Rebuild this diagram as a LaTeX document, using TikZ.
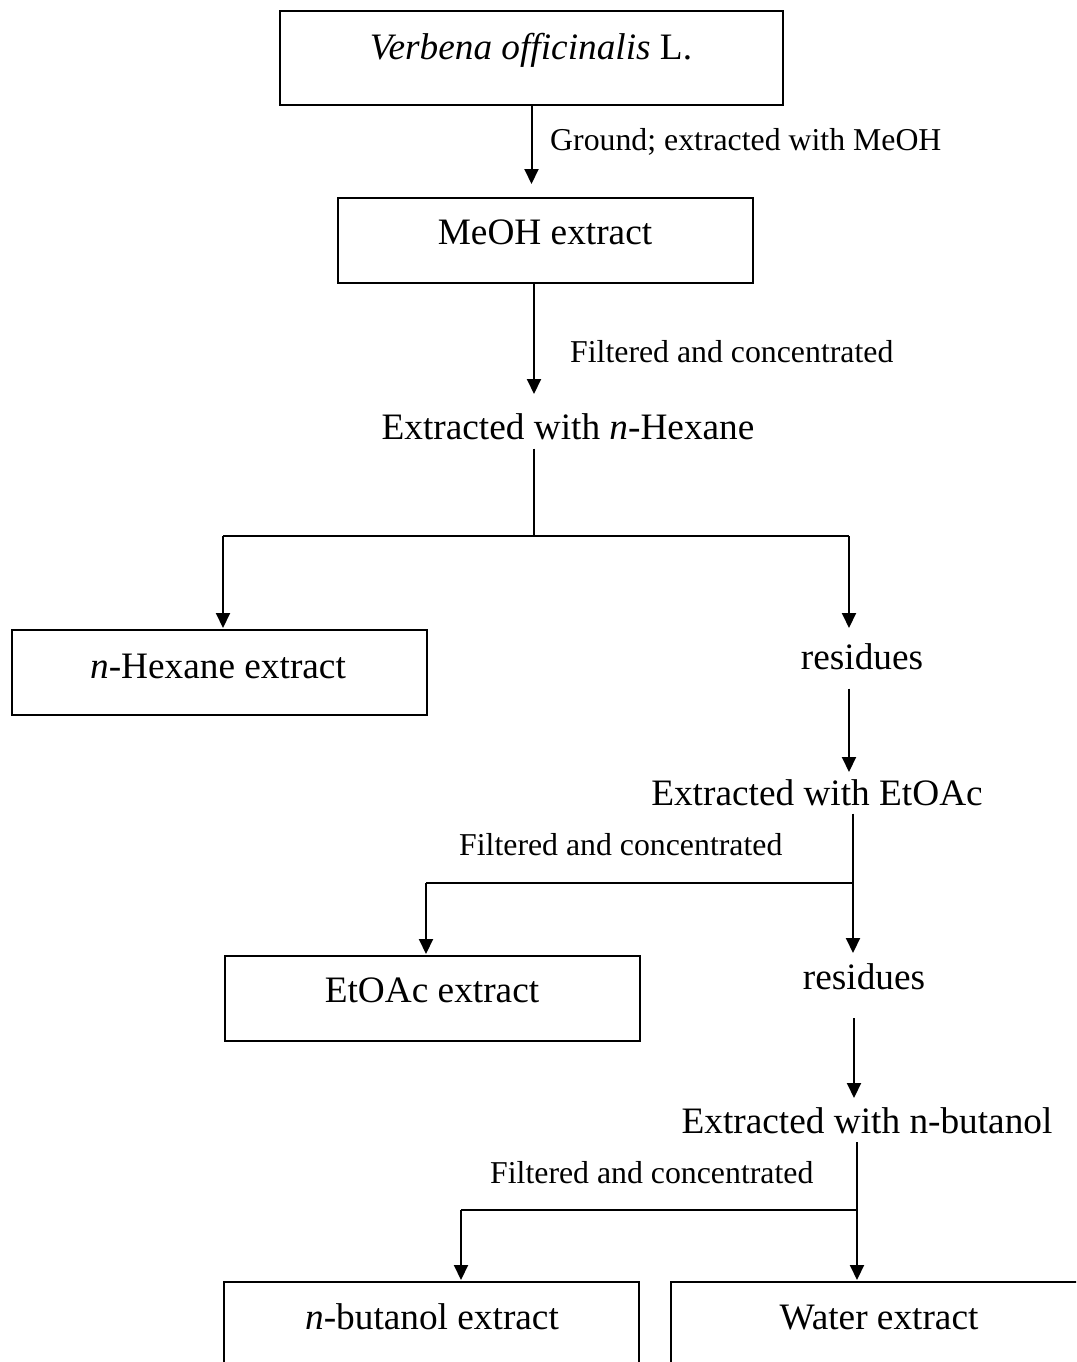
\documentclass[tikz,border=0pt]{standalone}
\usepackage{fontspec}
\setmainfont{Liberation Serif}
\usetikzlibrary{arrows.meta}
\begin{document}
\begin{tikzpicture}[x=1pt,y=-1pt,
  big/.style={font=\fontsize{37.3}{44}\selectfont, inner sep=0pt, text height=24.6pt, text depth=0pt},
  small/.style={font=\fontsize{31.8}{38}\selectfont, inner sep=0pt, text height=21pt, text depth=0pt, anchor=west},
  box/.style={draw, line width=2pt, inner sep=0pt},
  line/.style={line width=2pt},
  arr/.style={line width=2pt, -{Triangle[length=15pt,width=14pt]}}]
\useasboundingbox (0,0) rectangle (1076,1362);
\clip (0,0) rectangle (1076,1362);

% boxes
\node[box, minimum width=503pt, minimum height=94pt] (vbox) at (531.5,58) {};
\node[box, minimum width=415pt, minimum height=85pt] (mbox) at (545.5,240.5) {};
\node[box, minimum width=415pt, minimum height=85pt] (hbox) at (219.5,672.5) {};
\node[box, minimum width=415pt, minimum height=85pt] (ebox) at (432.5,998.5) {};
\node[box, minimum width=415pt, minimum height=160pt] (bbox) at (431.5,1362) {};
\node[box, minimum width=429pt, minimum height=160pt] (wbox) at (885.5,1362) {};

% texts
\node[big] (vt) at (531,47) {\textit{Verbena officinalis} L.};
\node[small] (l1) at (550,140) {Ground; extracted with MeOH};
\node[big] (mt) at (545,232) {MeOH extract};
\node[small] (l2) at (570,352) {Filtered and concentrated};
\node[big] (hex) at (568,427) {Extracted with \textit{n}-Hexane};
\node[big] (ht) at (218,666) {\textit{n}-Hexane extract};
\node[big] (r1) at (862,657) {residues};
\node[big] (e1) at (817,793) {Extracted with EtOAc};
\node[small] (l3) at (459,845) {Filtered and concentrated};
\node[big] (et) at (432,990) {EtOAc extract};
\node[big] (r2) at (864,977) {residues};
\node[big] (b1) at (867,1121) {Extracted with n-butanol};
\node[small] (l4) at (490,1173) {Filtered and concentrated};
\node[big] (bt) at (432,1317) {\textit{n}-butanol extract};
\node[big] (wt) at (879,1317) {Water extract};

% junctions
\coordinate (jh) at (534,536);
\coordinate (jl) at (223,536);
\coordinate (jr) at (849,536);
\coordinate (je) at (853,883);
\coordinate (jel) at (426,883);
\coordinate (jb) at (857,1210);
\coordinate (jbl) at (461,1210);

% connectors
\draw[arr, shorten >=13pt] (vbox.south) -- (vbox.south |- mbox.north);
\draw[arr, shorten >=20.5pt] (mbox.south -| jh) -- (hex.north -| jh);
\draw[line, shorten <=9pt] (hex.south -| jh) -- (jh);
\draw[line] (jl) -- (jr);
\draw[arr, shorten >=1pt] (jl) -- (hbox.north -| jl);
\draw[arr, shorten >=16.5pt] (jr) -- (r1.north -| jr);
\draw[arr, shorten <=19pt, shorten >=8.5pt] (r1.south -| jr) -- (e1.north -| jr);
\draw[line, shorten <=8pt] (e1.south -| je) -- (je);
\draw[arr, shorten >=11.5pt] (je) -- (r2.north -| je);
\draw[line] (je) -- (jel);
\draw[arr, shorten >=1pt] (jel) -- (ebox.north -| jel);
\draw[arr, shorten <=28.5pt, shorten >=10.5pt] (r2.south -| 854,0) -- (b1.north -| 854,0);
\draw[line, shorten <=8.5pt] (b1.south -| jb) -- (jb);
\draw[arr, shorten >=1pt] (jb) -- (wbox.north -| jb);
\draw[line] (jb) -- (jbl);
\draw[arr, shorten >=1pt] (jbl) -- (bbox.north -| jbl);
\end{tikzpicture}
\end{document}
